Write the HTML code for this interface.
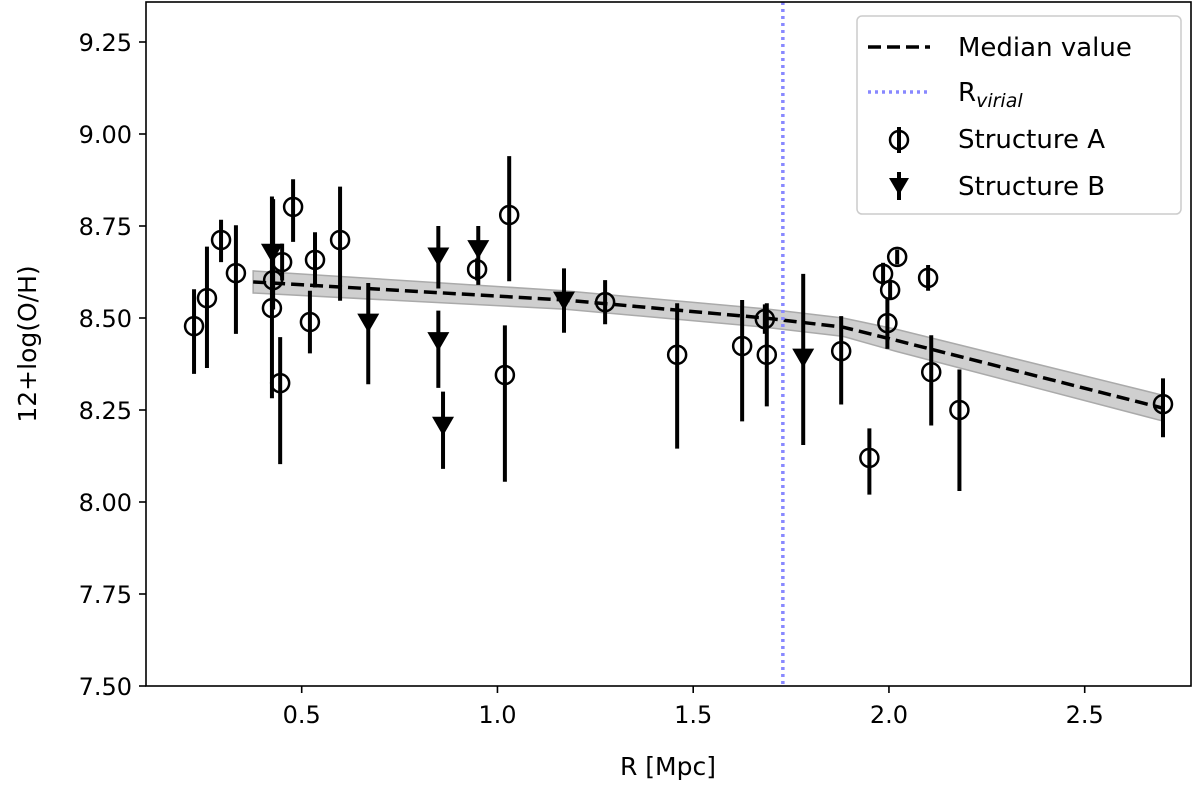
<!DOCTYPE html>
<html><head><meta charset="utf-8"><style>
html,body{margin:0;padding:0;background:#fff;}
svg text{font-family:"DejaVu Sans","Liberation Sans",sans-serif;fill:#000;}
</style></head><body>
<svg id="chart" width="1200" height="782" xmlns="http://www.w3.org/2000/svg">
<defs><clipPath id="clip"><rect x="146" y="2" width="1045" height="684"/></clipPath></defs>
<g id="plot" clip-path="url(#clip)"></g>
<rect x="146" y="2" width="1045" height="684" fill="none" stroke="#000" stroke-width="1.6"/>
<g id="axes"></g>
<text x="668" y="775" font-size="25" text-anchor="middle">R [Mpc]</text>
<text transform="translate(36,344) rotate(-90)" font-size="25" text-anchor="middle">12+log(O/H)</text>
<g>
<rect x="857" y="16" width="324" height="198" rx="5" fill="#fff" fill-opacity="0.85" stroke="#ccc" stroke-width="1.5"/>
<g>
<line x1="868" y1="47" x2="930" y2="47" stroke="#000" stroke-width="3.5" stroke-dasharray="13,6"/>
<text x="958" y="56" font-size="26">Median value</text></g>
<g>
<line x1="868" y1="92" x2="930" y2="92" stroke="#8888ff" stroke-width="3.5" stroke-dasharray="3,4"/>
<text x="958" y="101" font-size="26">R<tspan font-size="19" font-style="italic" dy="6">virial</tspan></text></g>
<g>
<line x1="899" y1="127" x2="899" y2="153" stroke="#000" stroke-width="4"/>
<circle cx="899" cy="140" r="9" fill="none" stroke="#000" stroke-width="2.5"/>
<text x="958" y="148" font-size="26">Structure A</text></g>
<g>
<line x1="899" y1="172" x2="899" y2="200" stroke="#000" stroke-width="4"/>
<path d="M889,178 L909,178 L899,195 Z" fill="#000"/>
<text x="958" y="195" font-size="26">Structure B</text></g>
</g>
</svg>
<script>
const aX=[0.225,0.258,0.294,0.332,0.424,0.427,0.450,0.478,0.445,0.534,0.521,0.598,0.948,1.030,1.019,1.275,1.459,1.625,1.683,1.688,1.878,1.950,1.985,2.003,1.996,2.021,2.100,2.108,2.180,2.700];
const aY=[8.478,8.554,8.712,8.622,8.527,8.603,8.652,8.802,8.323,8.658,8.489,8.712,8.632,8.780,8.345,8.543,8.400,8.424,8.497,8.400,8.410,8.120,8.620,8.576,8.486,8.666,8.609,8.353,8.250,8.266];
const aLo=[0.13,0.19,0.06,0.165,0.245,0.08,0.05,0.095,0.22,0.075,0.085,0.165,0.03,0.18,0.29,0.06,0.255,0.205,0.04,0.14,0.145,0.10,0.03,0.025,0.07,0.02,0.035,0.145,0.22,0.09];
const aHi=[0.10,0.14,0.055,0.13,0.03,0.22,0.05,0.075,0.125,0.075,0.085,0.145,0.03,0.16,0.135,0.06,0.14,0.125,0.04,0.14,0.095,0.08,0.03,0.025,0.07,0.02,0.035,0.10,0.11,0.07];
const bX=[0.424,0.670,0.849,0.849,0.861,0.951,1.170,1.781];
const bY=[8.680,8.490,8.670,8.440,8.210,8.690,8.550,8.395];
const bLo=[0.15,0.17,0.09,0.13,0.12,0.10,0.09,0.24];
const bHi=[0.15,0.105,0.08,0.08,0.09,0.06,0.085,0.225];
const medX=[0.376,1.170,1.683,1.883,2.016,2.700];
const medY=[8.598,8.549,8.500,8.475,8.440,8.255];
const medErr=[0.03,0.025,0.025,0.025,0.03,0.035];
const rVirial=1.729;
const xTicks=[0.5,1.0,1.5,2.0,2.5];
const xTickLabels=["0.5","1.0","1.5","2.0","2.5"];
const yTicks=[7.5,7.75,8.0,8.25,8.5,8.75,9.0,9.25];
const yTickLabels=["7.50","7.75","8.00","8.25","8.50","8.75","9.00","9.25"];

const NS="http://www.w3.org/2000/svg";
const sx=v=>301.7+(v-0.5)*391.5;
const sy=v=>318-(v-8.5)*368;
const plot=document.getElementById('plot');
const axes=document.getElementById('axes');
function mk(tag,attrs,parent){const e=document.createElementNS(NS,tag);for(const k in attrs)e.setAttribute(k,attrs[k]);parent.appendChild(e);return e;}

let pts=medX.map((x,i)=>sx(x)+','+sy(medY[i]+medErr[i]));
for(let i=medX.length-1;i>=0;i--)pts.push(sx(medX[i])+','+sy(medY[i]-medErr[i]));
const band=mk('polygon',{points:pts.join(' '),fill:'#bbb','fill-opacity':'0.7',stroke:'#aaa','stroke-width':'1.5'},plot);



aX.forEach((x,i)=>{
 const l=mk('line',{x1:sx(x),x2:sx(x),y1:sy(aY[i]+aHi[i]),y2:sy(aY[i]-aLo[i]),stroke:'#000','stroke-width':'4'},plot);
 
 
});
bX.forEach((x,i)=>{
 const l=mk('line',{x1:sx(x),x2:sx(x),y1:sy(bY[i]+bHi[i]),y2:sy(bY[i]-bLo[i]),stroke:'#000','stroke-width':'4'},plot);
 
 
});
const ml=mk('polyline',{points:medX.map((x,i)=>sx(x)+','+sy(medY[i])).join(' '),fill:'none',stroke:'#000','stroke-width':'3.5','stroke-dasharray':'13,6'},plot);


const vl=mk('line',{x1:sx(rVirial),x2:sx(rVirial),y1:2,y2:686,stroke:'#8888ff','stroke-width':'3.5','stroke-dasharray':'3,4'},plot);


aX.forEach((x,i)=>{
 const c=mk('circle',{cx:sx(x),cy:sy(aY[i]),r:9,fill:'none',stroke:'#000','stroke-width':'2.5'},plot);
 
 
});
bX.forEach((x,i)=>{
 const X=sx(x),Y=sy(bY[i]);
 const p=mk('path',{d:`M${X-11},${Y-8} L${X+11},${Y-8} L${X},${Y+11} Z`,fill:'#000'},plot);
 
 
});
xTicks.forEach((v,i)=>{
 const t=mk('line',{x1:sx(v),x2:sx(v),y1:686,y2:693,stroke:'#000','stroke-width':'1.6'},axes);
 
 
 const tx=mk('text',{x:sx(v),y:723,'font-size':'24','text-anchor':'middle'},axes);
 tx.textContent=xTickLabels[i];
 
 
});
yTicks.forEach((v,i)=>{
 const t=mk('line',{x1:139,x2:146,y1:sy(v),y2:sy(v),stroke:'#000','stroke-width':'1.6'},axes);
 
 
 const tx=mk('text',{x:132,y:sy(v)+9,'font-size':'24','text-anchor':'end'},axes);
 tx.textContent=yTickLabels[i];
 
 
});
</script>
</body></html>
